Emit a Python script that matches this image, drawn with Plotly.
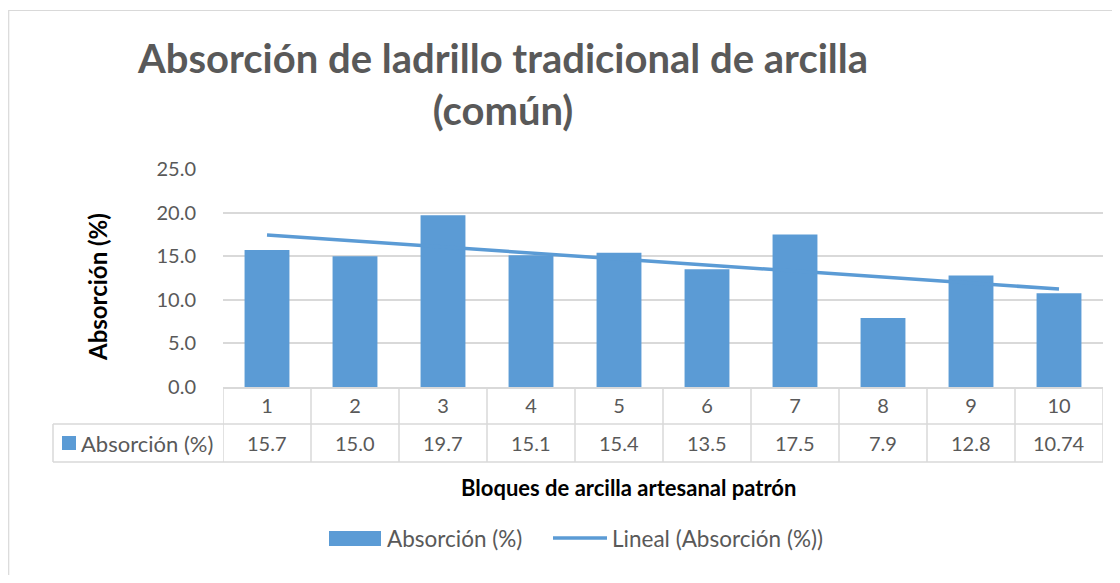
import numpy as np
import plotly.graph_objects as go

# ---------------- data ----------------
categories = ["1", "2", "3", "4", "5", "6", "7", "8", "9", "10"]
absorcion = [15.7, 15.0, 19.7, 15.1, 15.4, 13.5, 17.5, 7.9, 12.8, 10.74]
value_labels = ["15.7", "15.0", "19.7", "15.1", "15.4", "13.5", "17.5", "7.9", "12.8", "10.74"]
y_ticks = [0, 5, 10, 15, 20, 25]
series_name = "Absorción (%)"
trend_name = "Lineal (Absorción (%))"
title_text = "Absorción de ladrillo tradicional de arcilla<br>(común)"
x_title = "Bloques de arcilla artesanal patrón"
y_title = "Absorción (%)"

# ---------------- geometry helpers (screen pixel coords) ----------------
OFF = 8                      # default page body margin
W, H = 1120 - 2 * OFF, 583 - 2 * OFF
L, R, T, B = 223, 1103, 169, 387   # plot area on screen


def px(x):
    return (x - L) / (R - L)


def py(y):
    return (B - y) / (B - T)


BAR = "#5b9bd5"
GRID = "#d9d9d9"
TXT = "#595959"
FONT = "Lato"

idx = np.arange(1, len(absorcion) + 1)
slope, intercept = np.polyfit(idx, absorcion, 1)
trend = slope * idx + intercept

fig = go.Figure()
fig.add_trace(go.Bar(x=categories, y=absorcion, name=series_name,
                     marker=dict(color=BAR, line=dict(width=0)),
                     width=0.51, showlegend=False))
fig.add_trace(go.Scatter(x=categories, y=trend, name=trend_name, mode="lines",
                         line=dict(color=BAR, width=3.5), showlegend=False))

shapes = []
line_style = dict(color=GRID, width=1.5)
for yy in (424, 462):
    shapes.append(dict(type="line", xref="paper", yref="paper",
                       x0=px(53), x1=px(R), y0=py(yy), y1=py(yy), line=line_style))
shapes.append(dict(type="line", xref="paper", yref="paper",
                   x0=px(53), x1=px(53), y0=py(424), y1=py(462), line=line_style))
for k in range(len(categories) + 1):
    shapes.append(dict(type="line", xref="x", yref="paper",
                       x0=k - 0.5, x1=k - 0.5, y0=py(387), y1=py(462), line=line_style))
# legend key inside the table
shapes.append(dict(type="rect", xref="paper", yref="paper",
                   x0=px(62), x1=px(76), y0=py(450), y1=py(436),
                   fillcolor=BAR, line=dict(width=0)))
# chart legend swatches
shapes.append(dict(type="rect", xref="paper", yref="paper",
                   x0=px(329), x1=px(381), y0=py(546), y1=py(531),
                   fillcolor=BAR, line=dict(width=0)))
shapes.append(dict(type="line", xref="paper", yref="paper",
                   x0=px(553), x1=px(607), y0=py(538), y1=py(538),
                   line=dict(color=BAR, width=3.5)))
# outer chart border
shapes.append(dict(type="rect", xref="paper", yref="paper",
                   x0=px(8.7), x1=px(1140), y0=py(620), y1=py(10.5),
                   line=dict(color=GRID, width=1.2), fillcolor="rgba(0,0,0,0)"))

annotations = []
for i, v in enumerate(value_labels):
    annotations.append(dict(x=i, xref="x", y=py(443), yref="paper", text=v,
                            showarrow=False, xanchor="center", yanchor="middle",
                            font=dict(family=FONT, size=20, color=TXT)))
annotations.append(dict(x=px(79), xref="paper", y=py(443), yref="paper", text=series_name,
                        showarrow=False, xanchor="left", yanchor="middle",
                        font=dict(family=FONT, size=22, color=TXT)))
annotations.append(dict(x=px(628), xref="paper", y=py(487), yref="paper",
                        text="<b>" + x_title + "</b>", showarrow=False,
                        xanchor="center", yanchor="middle",
                        font=dict(family=FONT, size=22, color="#000000")))
annotations.append(dict(x=px(97), xref="paper", y=py(287), yref="paper",
                        text="<b>" + y_title + "</b>", showarrow=False, textangle=-90,
                        xanchor="center", yanchor="middle",
                        font=dict(family=FONT, size=24, color="#000000")))
annotations.append(dict(x=px(385), xref="paper", y=py(538), yref="paper", text=series_name,
                        showarrow=False, xanchor="left", yanchor="middle",
                        font=dict(family=FONT, size=22.5, color=TXT)))
annotations.append(dict(x=px(610), xref="paper", y=py(538), yref="paper", text=trend_name,
                        showarrow=False, xanchor="left", yanchor="middle",
                        font=dict(family=FONT, size=22.5, color=TXT)))

fig.update_layout(
    width=W, height=H,
    margin=dict(l=L - OFF, r=(W + OFF) - R, t=T - OFF, b=(H + OFF) - B, autoexpand=False),
    paper_bgcolor="white", plot_bgcolor="white",
    title=dict(text="<b>" + title_text.replace("<br>", "</b><br><b>") + "</b>",
               x=(503 - OFF) / W, xanchor="center", xref="container",
               y=1 - (73 - OFF) / H, yanchor="middle", yref="container",
               font=dict(family=FONT, size=40, color=TXT)),
    xaxis=dict(type="category", range=[-0.5, len(categories) - 0.5],
               showgrid=False, zeroline=False, showline=True,
               linecolor=GRID, linewidth=1.5, ticks="",
               tickfont=dict(family=FONT, size=20, color=TXT),
               ticklabelstandoff=0),
    yaxis=dict(range=[0, 25], tickvals=y_ticks, tickformat=".1f",
               showgrid=True, gridcolor=GRID, gridwidth=1.5,
               zeroline=False, showline=False, ticks="",
               tickfont=dict(family=FONT, size=20, color=TXT),
               ticklabelstandoff=26),
    shapes=shapes,
    annotations=annotations,
    showlegend=False,
    bargap=0.49,
)

fig.write_html("out.html")
